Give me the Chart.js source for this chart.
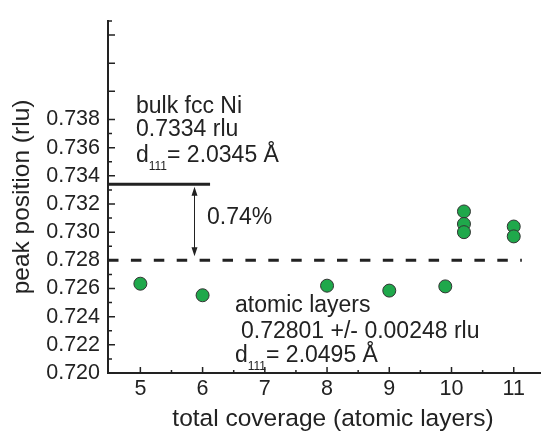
<!DOCTYPE html>
<html>
<head>
<meta charset="utf-8">
<script src="https://cdn.jsdelivr.net/npm/chart.js@4/dist/chart.umd.min.js"></script>
<style>
  body { margin: 0; background: #fff; }
  canvas { display: block; }
</style>
</head>
<body>
<canvas id="peakChart" width="548" height="431"></canvas>
<script>
// Ni(111) peak position versus total coverage
var coverage = [5, 6, 8, 9, 9.9, 10.2, 10.2, 10.2, 11, 11];
var peakPos = [0.72634, 0.72552, 0.7262, 0.72585, 0.72615, 0.73147, 0.73058, 0.7300, 0.7304, 0.7297];

// reference levels: bulk fcc Ni and the film average
var bulkLevel = 0.7334;
var filmLevel = 0.72801;
var bulkSpan = [4.48, 6.12];
var filmSpan = [4.48, 11.13];
var arrowX = 5.87;

var xTicks = [5, 6, 7, 8, 9, 10, 11];
var xMinor = [5.5, 6.5, 7.5, 8.5, 9.5, 10.5];
var yTicks = [0.720, 0.722, 0.724, 0.726, 0.728, 0.730, 0.732, 0.734, 0.736, 0.738, 0.740, 0.742, 0.744];
var yMinor = [0.721, 0.723, 0.725, 0.727, 0.729, 0.731, 0.733, 0.735, 0.737, 0.745];
var yLabelTop = 0.738;

var ink = '#222';
var font = '"Liberation Sans", Arial, Helvetica, sans-serif';

function pts(xs, ys) {
    return xs.map(function (x, i) { return { x: x, y: ys[i] }; });
}

// d with a 111 subscript followed by the value
function drawSpacing(ctx, x, y, rest) {
    ctx.font = '23px ' + font;
    ctx.fillText('d', x, y);
    x += ctx.measureText('d').width;
    ctx.font = '12px ' + font;
    ctx.fillText('111', x, y + 8);
    x += ctx.measureText('111').width;
    ctx.font = '23px ' + font;
    ctx.fillText(rest, x, y);
}

// inward tick marks, the arrow and the text notes
var decorations = {
    id: 'decorations',
    afterDatasetsDraw: function (chart) {
        var ctx = chart.ctx;
        var xs = chart.scales.x, ys = chart.scales.y;
        var left = chart.chartArea.left, bottom = chart.chartArea.bottom;
        ctx.save();
        ctx.strokeStyle = ink;
        ctx.fillStyle = ink;
        ctx.lineWidth = 1.5;
        ctx.beginPath();
        yTicks.forEach(function (v) {
            var y = ys.getPixelForValue(v);
            ctx.moveTo(left, y); ctx.lineTo(left + 7, y);
        });
        yMinor.forEach(function (v) {
            var y = ys.getPixelForValue(v);
            ctx.moveTo(left, y); ctx.lineTo(left + 4, y);
        });
        xTicks.forEach(function (v) {
            var x = xs.getPixelForValue(v);
            ctx.moveTo(x, bottom); ctx.lineTo(x, bottom - 6);
        });
        xMinor.forEach(function (v) {
            var x = xs.getPixelForValue(v);
            ctx.moveTo(x, bottom); ctx.lineTo(x, bottom - 3);
        });
        ctx.stroke();

        // double arrow between the two levels
        var ax = xs.getPixelForValue(arrowX);
        var y1 = ys.getPixelForValue(bulkLevel) + 2.5;
        var y2 = ys.getPixelForValue(filmLevel) - 4;
        ctx.lineWidth = 1;
        ctx.beginPath();
        ctx.moveTo(ax, y1 + 6); ctx.lineTo(ax, y2 - 6);
        ctx.stroke();
        ctx.beginPath();
        ctx.moveTo(ax, y1); ctx.lineTo(ax - 3, y1 + 9); ctx.lineTo(ax + 3, y1 + 9); ctx.closePath();
        ctx.moveTo(ax, y2); ctx.lineTo(ax - 3, y2 - 9); ctx.lineTo(ax + 3, y2 - 9); ctx.closePath();
        ctx.fill();

        ctx.textBaseline = 'alphabetic';
        ctx.textAlign = 'left';
        ctx.font = '23px ' + font;
        ctx.fillText('bulk fcc Ni', 136, 113);
        ctx.fillText('0.7334 rlu', 136, 136);
        drawSpacing(ctx, 136, 162, '= 2.0345 \u00c5');
        ctx.font = '23px ' + font;
        ctx.fillText('0.74%', 207, 224);
        ctx.fillText('atomic layers', 235, 312);
        ctx.fillText('0.72801 +/- 0.00248 rlu', 241, 338);
        drawSpacing(ctx, 235, 362, '= 2.0495 \u00c5');

        ctx.font = '24.5px ' + font;
        ctx.textAlign = 'center';
        ctx.fillText('total coverage (atomic layers)', 333, 426);
        ctx.restore();
    }
};

new Chart(document.getElementById('peakChart').getContext('2d'), {
    type: 'scatter',
    data: {
        datasets: [{
            data: pts(coverage, peakPos),
            backgroundColor: '#1fa84b',
            borderColor: '#333',
            borderWidth: 1,
            pointRadius: 6.5,
            order: 0
        }, {
            type: 'line',
            data: pts(bulkSpan, [bulkLevel, bulkLevel]),
            borderColor: ink,
            borderWidth: 3,
            pointRadius: 0,
            order: 1
        }, {
            type: 'line',
            data: pts(filmSpan, [filmLevel, filmLevel]),
            borderColor: ink,
            borderWidth: 3,
            borderDash: [10.5, 12.4],
            pointRadius: 0,
            order: 1
        }]
    },
    options: {
        responsive: false,
        animation: false,
        layout: { padding: { top: 15, left: 0, right: 0, bottom: 0 } },
        plugins: {
            legend: { display: false },
            tooltip: { enabled: false }
        },
        scales: {
            x: {
                type: 'linear',
                min: 4.48,
                max: 11.43,
                afterFit: function (scale) { scale.height = 58; },
                afterBuildTicks: function (scale) {
                    scale.ticks = xTicks.map(function (v) { return { value: v }; });
                },
                grid: { display: false, drawTicks: false, tickLength: 0 },
                border: { display: true, color: ink, width: 2 },
                ticks: {
                    autoSkip: false,
                    maxRotation: 0,
                    padding: 3,
                    color: ink,
                    font: { family: font, size: 21.5 }
                }
            },
            y: {
                min: 0.720,
                max: 0.745,
                afterFit: function (scale) { scale.width = 108; },
                afterBuildTicks: function (scale) {
                    scale.ticks = yTicks.map(function (v) { return { value: v }; });
                },
                grid: { display: false, drawTicks: false, tickLength: 0 },
                border: { display: true, color: ink, width: 2 },
                title: {
                    display: true,
                    text: 'peak position (rlu)',
                    color: ink,
                    font: { family: font, size: 24.5 },
                    padding: { top: 8, bottom: 0 }
                },
                ticks: {
                    autoSkip: false,
                    padding: 8,
                    color: ink,
                    font: { family: font, size: 21.5 },
                    callback: function (value) {
                        return value <= yLabelTop + 0.0005 ? value.toFixed(3) : '';
                    }
                }
            }
        }
    },
    plugins: [decorations]
});
</script>
</body>
</html>
